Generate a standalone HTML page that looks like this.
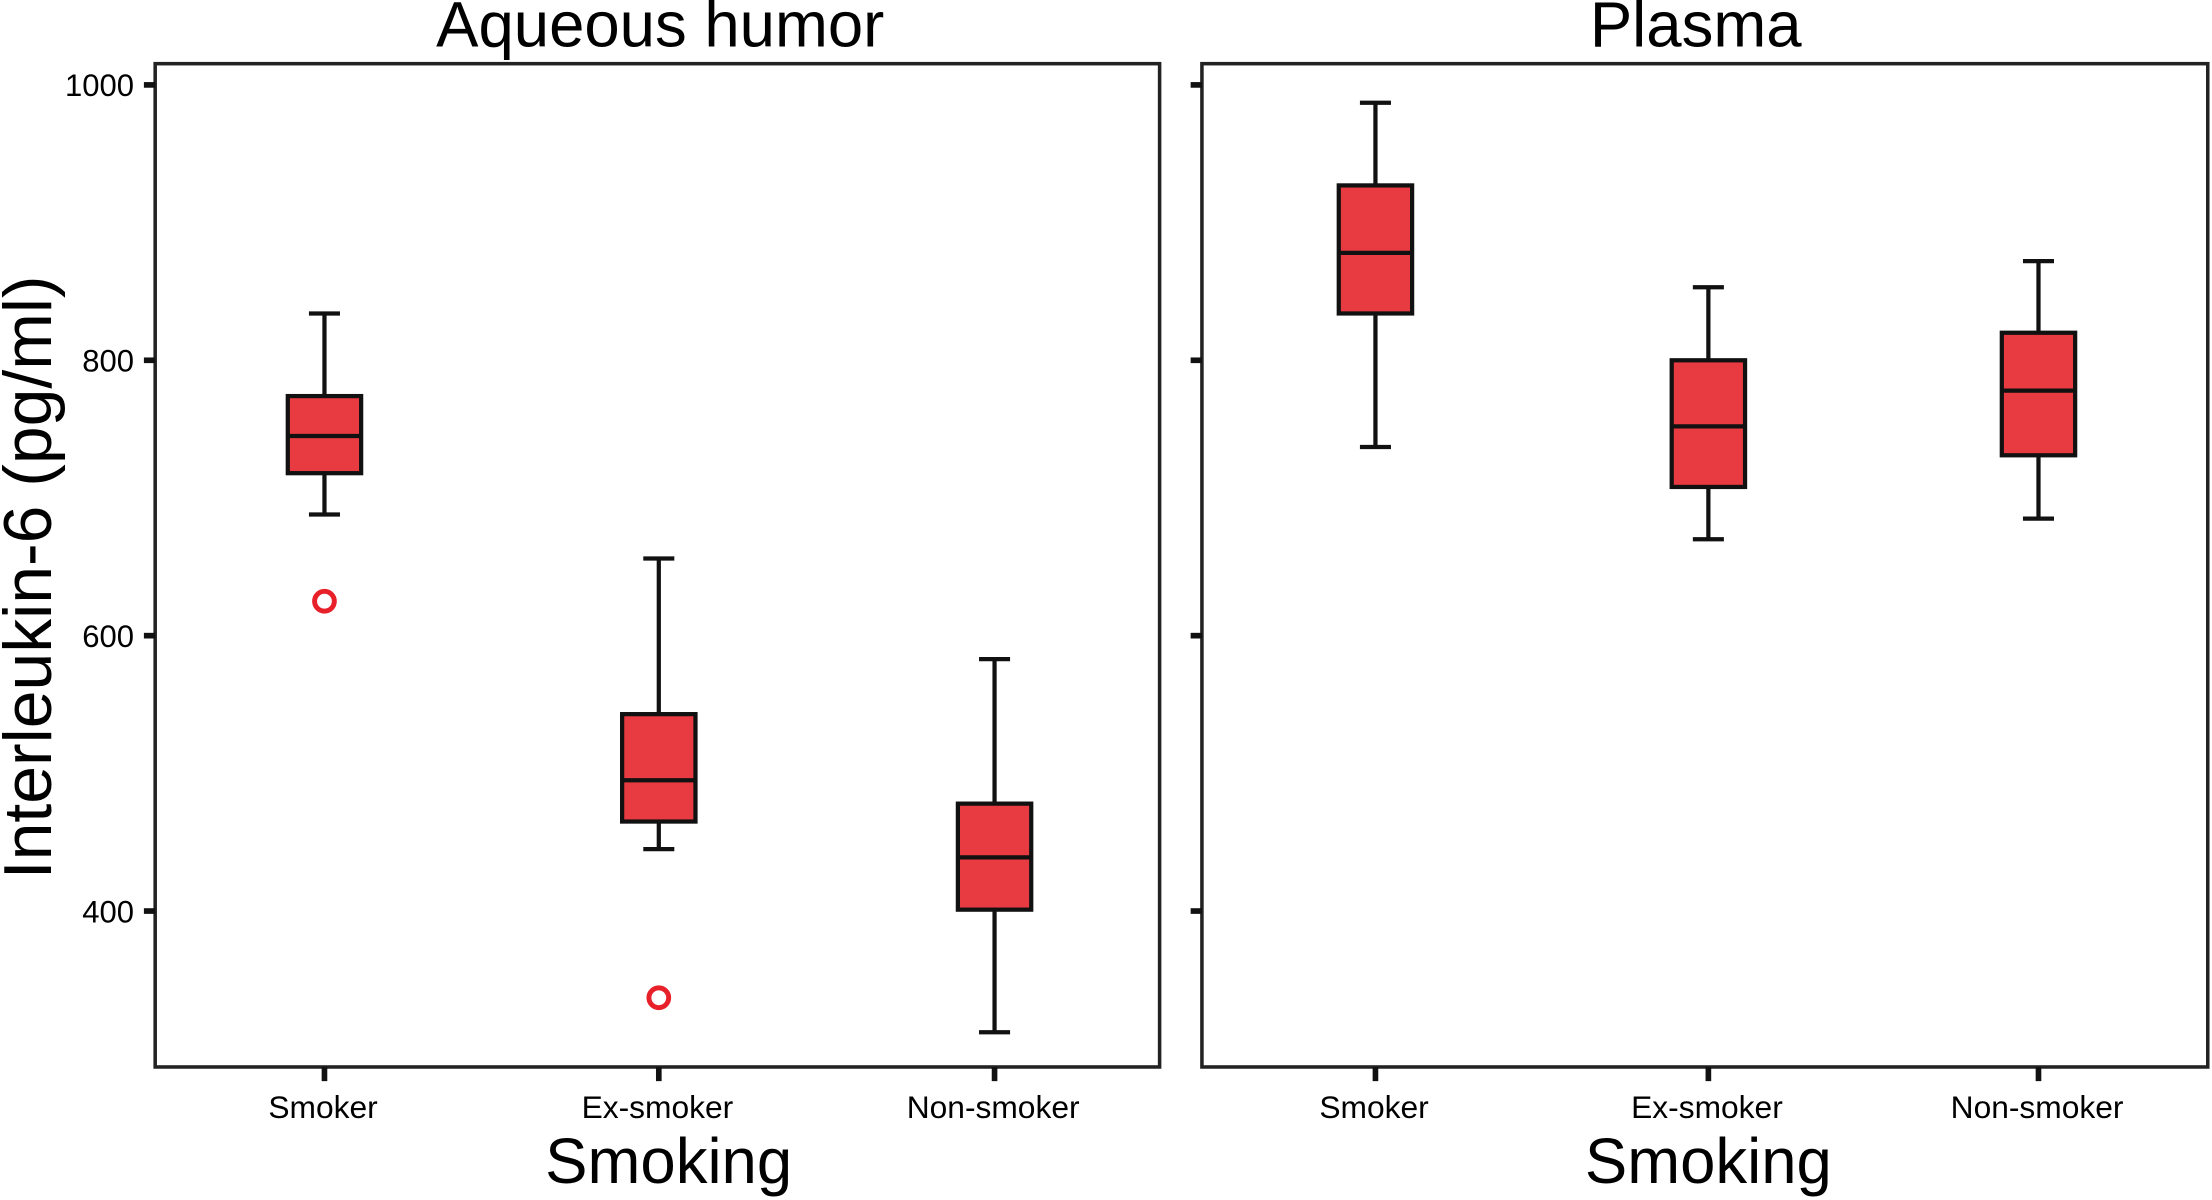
<!DOCTYPE html>
<html><head><meta charset="utf-8"><style>html,body{margin:0;padding:0;background:#fff;}svg{display:block;}</style></head>
<body>
<svg id="chart" width="2212" height="1200" viewBox="0 0 1568 848" preserveAspectRatio="none" xmlns="http://www.w3.org/2000/svg" font-family="Liberation Sans, sans-serif"></svg>
<script>
const categories = ["Smoker", "Ex-smoker", "Non-smoker"];
const panels = ["Aqueous humor", "Plasma"];
const aqWhiskerHigh = [834, 656, 583];
const aqQ3 = [774, 543, 478];
const aqMedian = [745, 495, 439];
const aqQ1 = [718, 465, 401];
const aqWhiskerLow = [688, 445, 312];
const aqOutliers = [[625], [337], []];
const plWhiskerHigh = [987, 853, 872];
const plQ3 = [927, 800, 820];
const plMedian = [878, 752, 778];
const plQ1 = [834, 708, 731];
const plWhiskerLow = [737, 670, 685];
const plOutliers = [[], [], []];
const yTicks = [400, 600, 800, 1000];

const NS = "http://www.w3.org/2000/svg";
const svgEl = document.getElementById("chart");
function mk(tag, attrs, parent) {
  const e = document.createElementNS(NS, tag);
  for (const k in attrs) e.setAttribute(k, attrs[k]);
  (parent || svgEl).appendChild(e);
  return e;
}
function yScale(v) { return 60 + (1000 - v) * 0.973; }
const panelBoxes = [{x0: 110, x1: 822, cx: [230, 467, 705]}, {x0: 852, x1: 1565, cx: [975, 1211, 1445]}];
const series = [
  [aqWhiskerHigh, aqQ3, aqMedian, aqQ1, aqWhiskerLow, aqOutliers],
  [plWhiskerHigh, plQ3, plMedian, plQ1, plWhiskerLow, plOutliers]
];
const plotTop = 45, plotBottom = 754;

panelBoxes.forEach((p, pi) => {
  const g = mk("g", {});
  
  
  const frame = mk("rect", {x: p.x0, y: plotTop, width: p.x1 - p.x0, height: plotBottom - plotTop, fill: "none", stroke: "#222", "stroke-width": 2.5}, g);
  
  
  const t = mk("text", {x: (pi === 0 ? 468 : 1202), y: 33, "font-size": 45, "text-anchor": "middle", fill: "#000"}, g);
  t.textContent = panels[pi];
  
  
  yTicks.forEach(v => {
    const tk = mk("line", {x1: p.x0 - 8, x2: p.x0, y1: yScale(v), y2: yScale(v), stroke: "#111", "stroke-width": 4}, g);
    
    
    if (pi === 0) {
      const tl = mk("text", {x: 95, y: yScale(v) + 8, "font-size": 22, "text-anchor": "end", fill: "#000"}, g);
      tl.textContent = v;
      
      
    }
  });
  const s = series[pi];
  categories.forEach((c, i) => {
    const cx = p.cx[i];
    const xt = mk("line", {x1: cx, x2: cx, y1: plotBottom, y2: plotBottom + 10, stroke: "#111", "stroke-width": 4}, g);
    
    
    const xl = mk("text", {x: cx - 1, y: 790, "font-size": 22.5, "text-anchor": "middle", fill: "#000"}, g);
    xl.textContent = c;
    
    
    const bg = mk("g", {}, g);
    
    
    const st = {stroke: "#111", "stroke-width": 3};
    mk("line", Object.assign({x1: cx, x2: cx, y1: yScale(s[0][i]), y2: yScale(s[1][i])}, st), bg);
    mk("line", Object.assign({x1: cx, x2: cx, y1: yScale(s[3][i]), y2: yScale(s[4][i])}, st), bg);
    mk("line", Object.assign({x1: cx - 11, x2: cx + 11, y1: yScale(s[0][i]), y2: yScale(s[0][i])}, st), bg);
    mk("line", Object.assign({x1: cx - 11, x2: cx + 11, y1: yScale(s[4][i]), y2: yScale(s[4][i])}, st), bg);
    mk("rect", Object.assign({x: cx - 26, y: yScale(s[1][i]), width: 52, height: yScale(s[3][i]) - yScale(s[1][i]), fill: "#e83a41"}, st), bg);
    mk("line", Object.assign({x1: cx - 26, x2: cx + 26, y1: yScale(s[2][i]), y2: yScale(s[2][i])}, st), bg);
    s[5][i].forEach(o => {
      const oc = mk("circle", {cx: cx, cy: yScale(o), r: 7, fill: "#fff", stroke: "#e8202a", "stroke-width": 3.5}, bg);
      
      
    });
  });
  const xa = mk("text", {x: (pi === 0 ? 474 : 1211), y: 836, "font-size": 45, "text-anchor": "middle", fill: "#000"}, g);
  xa.textContent = "Smoking";
  
  
});
const yt = mk("text", {x: 0, y: 0, "font-size": 48, "text-anchor": "middle", fill: "#000", transform: "translate(36,408) rotate(-90)"});
yt.textContent = "Interleukin-6 (pg/ml)";


</script>
</body></html>
